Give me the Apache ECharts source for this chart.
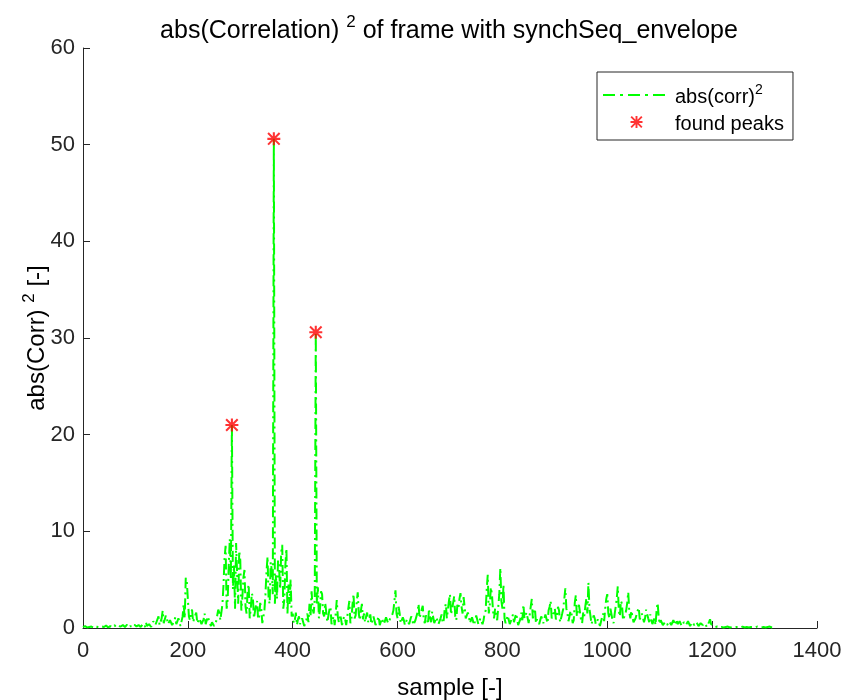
<!DOCTYPE html>
<html>
<head>
<meta charset="utf-8">
<script src="https://cdn.jsdelivr.net/npm/echarts@6/dist/echarts.min.js"></script>
<style>
html,body{margin:0;padding:0;background:#fff;}
#chart{width:842px;height:700px;}
</style>
</head>
<body>
<div id="chart"></div>
<script>
// sample spacing of the correlation values (samples)
var sampleStep = 2;
// abs(corr)^2 values, one every sampleStep samples starting at sample 0
var corrValues = [
  0.1,0.05,0.2,0.1,0.05,0.15,0.1,0.05,0.15,0.1,
  0.05,0.1,0.2,0.05,0.1,0.2,0.05,0.1,0.15,0.05,
  0.1,0.2,0.25,0.1,0.05,0.15,0.2,0.05,0.1,0.25,
  0.3,0.1,0.05,0.2,0.2,0.1,0.15,0.05,0.3,0.15,
  0.1,0.3,0.35,0.1,0.05,0.2,0.3,0.1,0.2,0.35,
  0.4,0.15,0.1,0.3,0.5,0.1,0.2,0.4,0.3,0.1,
  0.6,0.2,0.1,0.4,0.5,0.1,0.3,0.7,0.8,0.3,
  0.2,0.9,1.2,0.3,0.4,1.0,1.8,0.5,0.6,1.3,
  1.0,0.4,0.3,0.8,0.9,0.3,0.2,0.7,1.1,0.4,
  0.5,1.0,0.8,0.2,0.3,1.2,2.5,1.0,5.2,4.8,
  3.0,1.2,0.8,1.5,1.9,0.6,0.5,1.3,1.6,0.5,
  0.4,1.0,1.2,0.4,0.3,0.9,1.5,0.4,0.6,1.2,
  1.3,0.5,0.2,0.6,0.5,0.2,0.3,0.7,0.8,1.9,
  1.6,0.8,0.6,2.5,4.5,7.2,8.5,2.0,3.0,6.5,
  9.2,5.0,21.0,4.0,6.5,2.0,8.8,5.5,2.5,8.0,
  7.0,1.8,3.2,5.2,6.0,2.2,1.5,3.8,4.5,1.0,
  2.0,3.6,3.2,1.0,0.8,2.4,2.8,0.9,1.2,2.6,
  2.0,0.5,0.6,1.8,3.5,5.8,7.4,3.0,2.5,6.8,
  6.0,3.5,50.6,2.5,5.5,3.0,7.0,6.2,4.0,7.8,
  8.6,2.0,3.0,6.5,8.2,1.5,4.5,2.5,5.0,1.2,
  1.5,0.5,0.8,1.6,0.3,0.9,1.2,0.4,0.4,1.0,
  0.6,0.2,0.2,0.8,1.5,0.6,2.5,1.2,3.8,2.0,
  1.5,3.0,30.6,2.5,4.2,1.0,2.0,3.8,3.5,1.5,
  1.2,2.6,2.8,0.6,0.8,1.9,2.2,0.4,0.5,1.2,
  0.3,1.5,2.9,1.2,0.6,1.4,1.0,0.3,0.4,1.2,
  0.9,0.3,0.5,2.0,2.8,0.5,1.0,2.4,3.5,1.0,
  1.3,2.6,3.7,1.5,0.8,1.8,2.5,0.9,1.5,0.6,
  1.2,1.6,0.6,0.9,1.4,0.4,0.5,1.2,1.0,0.3,
  0.4,0.9,1.2,0.3,0.3,1.0,0.9,0.4,0.5,1.1,
  1.3,0.5,0.4,1.0,0.8,1.4,1.8,2.8,3.9,1.5,
  1.0,2.2,1.5,0.5,0.4,1.1,0.8,0.3,0.3,0.9,
  1.1,0.4,0.5,1.2,0.9,0.3,0.2,0.8,0.6,1.6,
  2.5,1.0,1.2,1.9,2.3,0.8,0.5,1.3,1.0,0.4,
  2.0,1.1,0.6,1.7,1.5,0.5,0.3,1.1,0.9,0.4,
  0.4,1.0,1.4,0.5,0.8,2.0,2.5,1.0,1.2,2.8,
  3.5,1.4,1.5,2.6,3.3,1.2,0.8,2.4,2.0,3.0,
  3.6,2.2,1.5,3.2,3.0,1.0,0.8,1.6,1.2,0.5,
  0.4,1.1,1.0,0.3,0.5,1.3,1.5,0.4,0.6,1.0,
  1.2,0.4,0.8,1.5,1.8,4.0,5.5,1.5,2.5,4.2,
  3.5,1.8,1.0,2.0,2.2,0.8,0.6,3.5,6.2,2.8,
  2.0,4.5,1.0,0.5,0.4,1.3,1.2,0.4,0.5,1.0,
  1.4,0.6,0.7,1.5,1.0,0.3,0.3,0.9,1.6,0.8,
  2.4,1.0,0.8,1.6,1.5,0.5,0.6,2.2,3.0,1.0,
  1.2,2.0,0.5,0.9,1.0,0.4,0.3,1.2,0.9,0.5,
  0.6,1.4,1.2,0.5,1.8,2.2,2.8,1.0,0.8,1.6,
  2.0,0.9,1.2,2.2,1.8,0.6,0.5,1.5,2.0,3.0,
  4.1,2.0,1.5,0.7,0.6,1.8,1.4,0.5,0.8,2.6,
  3.4,1.2,1.0,2.4,2.2,0.8,0.5,1.6,1.2,2.2,
  3.0,1.5,4.7,2.0,1.2,0.4,0.6,1.3,1.0,0.4,
  0.3,0.9,0.8,0.2,0.4,1.1,1.5,0.7,2.0,3.0,
  3.5,1.5,1.0,2.0,2.2,0.8,0.5,1.4,1.5,3.0,
  4.3,1.8,1.2,2.8,2.5,0.8,0.6,1.4,1.8,2.6,
  3.7,1.6,1.0,1.8,2.0,0.6,0.4,1.0,1.2,1.8,
  2.1,0.9,0.8,1.5,1.7,0.6,1.0,1.9,2.1,1.0,
  0.6,1.4,1.2,0.4,0.5,1.0,0.3,1.8,2.6,1.2,
  0.4,0.8,0.7,0.3,0.2,0.6,0.8,0.3,0.3,0.7,
  0.6,0.3,0.2,0.8,0.7,0.3,0.9,0.4,0.3,0.7,
  0.5,0.2,0.2,0.6,0.8,0.3,0.4,0.7,0.6,0.2,
  0.2,0.6,0.8,0.3,0.3,0.6,0.5,0.2,0.2,0.5,
  0.7,0.3,0.3,0.5,0.4,0.1,0.2,0.6,0.9,0.4,
  0.3,0.2,0.2,0.1,0.1,0.15,0.15,0.05,0.1,0.1,
  0.1,0.05,0.05,0.1,0.1,0.15,0.15,0.05,0.05,0.1,
  0.1,0.05,0.1,0.1,0.05,0.1,0.1,0.05,0.1,0.15,
  0.15,0.05,0.05,0.1,0.1,0.05,0.1,0.1,0.05,0.1,
  0.1,0.05,0.1,0.15,0.05,0.1,0.1,0.05,0.15,0.1,
  0.1,0.05,0.05,0.1,0.1,0.15,0.1,0.05,0.05,0.1
];
// found peaks
var peakSamples = [284, 364, 444];
var peakValues = [21.0, 50.6, 30.6];
// axis ticks
var xTicks = [0, 200, 400, 600, 800, 1000, 1200, 1400];
var yTicks = [0, 10, 20, 30, 40, 50, 60];

var seriesLabel = 'abs(corr)2';
var peaksLabel = 'found peaks';

var corrData = corrValues.map(function (v, i) { return [i * sampleStep, v]; });
var peakData = peakSamples.map(function (s, i) { return [s, peakValues[i]]; });

var asterisk = 'path://M42 0L58 0L58 100L42 100Z M0 42L100 42L100 58L0 58Z M11 0L100 89L89 100L0 11Z M89 0L100 11L11 100L0 89Z';
// dash-dot legend icon (67 x 12 box, degenerate corner points keep the box)
var dashDotIcon = 'path://M0 0L0 0Z M67 12L67 12Z M0 5L12 5L12 7L0 7Z M17 5L20 5L20 7L17 7Z M25 5L37 5L37 7L25 7Z M42 5L45 5L45 7L42 7Z M50 5L62 5L62 7L50 7Z';
var FONT = 'Liberation Sans';
var AX = '#262626';

var chart = echarts.init(document.getElementById('chart'), null, {renderer: 'canvas'});
chart.setOption({
  animation: false,
  backgroundColor: '#ffffff',
  textStyle: {fontFamily: FONT},
  title: {
    text: '{a|abs(Correlation) }{s|2}{a| of frame with synchSeq_envelope}',
    left: 444,
    textAlign: 'center',
    top: 9,
    textStyle: {
      fontWeight: 'normal',
      rich: {
        a: {fontSize: 25, fontFamily: FONT, fontWeight: 'normal', color: '#000', lineHeight: 30, verticalAlign: 'bottom'},
        s: {fontSize: 17, fontFamily: FONT, fontWeight: 'normal', color: '#000', lineHeight: 30, verticalAlign: 'top'}
      }
    }
  },
  grid: {left: 83, right: 25, top: 48, bottom: 72, containLabel: false, outerBoundsMode: 'none'},
  legend: {
    orient: 'vertical',
    left: 597,
    top: 72,
    padding: [11, 9, 6, 6],
    itemGap: 7,
    itemWidth: 67,
    itemHeight: 12,
    backgroundColor: '#fff',
    borderColor: AX,
    borderWidth: 1,
    borderRadius: 0,
    data: [
      {name: seriesLabel, icon: dashDotIcon, itemStyle: {color: '#00ff00'}},
      {name: peaksLabel}
    ],
    formatter: function (name) {
      return name === seriesLabel ? '{t|abs(corr)}{s|2}' : '{t|found peaks}';
    },
    textStyle: {
      rich: {
        t: {fontSize: 20, fontFamily: FONT, color: '#000', lineHeight: 24, verticalAlign: 'bottom'},
        s: {fontSize: 14, fontFamily: FONT, color: '#000', lineHeight: 24, verticalAlign: 'top'}
      }
    }
  },
  xAxis: {
    type: 'value',
    min: 0,
    max: 1400,
    interval: 200,
    name: 'sample [-]',
    nameLocation: 'middle',
    nameGap: 46,
    nameMoveOverlap: false,
    nameTextStyle: {fontSize: 24, color: '#000', fontFamily: FONT, lineHeight: 28},
    axisLine: {show: true, lineStyle: {color: AX, width: 1}},
    axisTick: {show: true, inside: true, length: 7, lineStyle: {color: AX}},
    axisLabel: {fontSize: 22, color: AX, margin: 12, fontFamily: FONT, formatter: function (v) { return String(v); }},
    splitLine: {show: false}
  },
  yAxis: {
    type: 'value',
    min: 0,
    max: 60,
    interval: 10,
    name: '{n|abs(Corr) }{s|2}{n| [-]}',
    nameLocation: 'middle',
    nameRotate: 90,
    nameGap: 34,
    nameMoveOverlap: false,
    nameTextStyle: {
      rich: {
        n: {fontSize: 24, fontFamily: FONT, color: '#000', lineHeight: 28, verticalAlign: 'bottom'},
        s: {fontSize: 17, fontFamily: FONT, color: '#000', lineHeight: 28, verticalAlign: 'top'}
      }
    },
    axisLine: {show: true, lineStyle: {color: AX, width: 1}},
    axisTick: {show: true, inside: true, length: 7, lineStyle: {color: AX}},
    axisLabel: {fontSize: 22, color: AX, margin: 8, fontFamily: FONT},
    splitLine: {show: false}
  },
  series: [
    {
      name: seriesLabel,
      type: 'line',
      data: corrData,
      showSymbol: false,
      symbol: 'none',
      z: 2,
      lineStyle: {color: '#00ff00', width: 2, type: [11, 4, 2, 4]},
      itemStyle: {color: '#00ff00'}
    },
    {
      name: peaksLabel,
      type: 'scatter',
      data: peakData,
      symbol: asterisk,
      symbolSize: 13,
      z: 3,
      itemStyle: {color: '#ff0000'}
    }
  ]
});
</script>
</body>
</html>
